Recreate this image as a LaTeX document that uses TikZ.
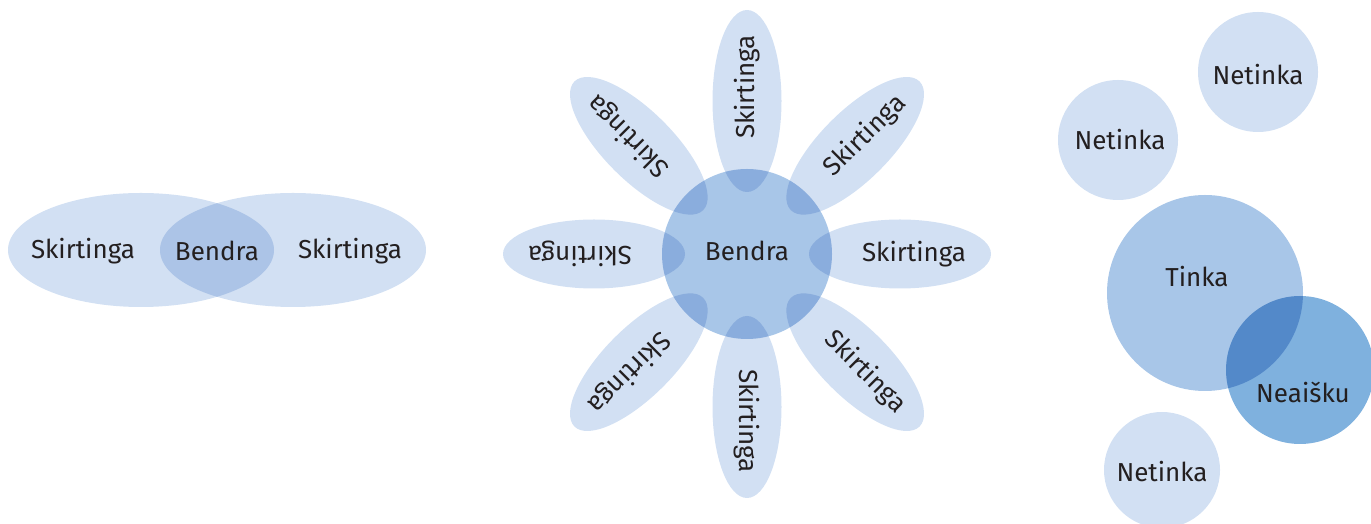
\documentclass[tikz,border=0pt]{standalone}
\usepackage{fontspec}
\setmainfont{Fira Sans}
\usetikzlibrary{shapes.geometric,calc}
\definecolor{lightblue}{RGB}{210,224,243}
\definecolor{midblue}{RGB}{168,198,232}
\definecolor{deepblue}{RGB}{127,177,222}
\definecolor{inkgray}{RGB}{35,31,32}
\begin{document}
\begin{tikzpicture}[x=0.5pt, y=0.5pt,
    every node/.style={inner sep=0pt, text=inkgray, font=\fontsize{13}{15}\selectfont},
    vennpart/.style={ellipse, fill=lightblue, minimum width=133pt, minimum height=57pt},
    petal/.style={ellipse, fill=lightblue, minimum width=91pt, minimum height=34.5pt},
    core/.style={circle, fill=midblue, minimum size=85pt},
    bubble/.style={circle, fill=lightblue, minimum size=#1}]
    \useasboundingbox (0,0) rectangle (1371,524);
    \begin{scope}[blend group=multiply]
        % left: two sets
        \node[vennpart] (setA) at (141,274) {};
        \node[vennpart] (setB) at (293,274) {};
        % middle: flower
        \node[core] (hub) at (747,270) {};
        \foreach \a in {0,45,...,315}
            \node[petal, rotate=\a] (petal\a) at ($(hub)+(\a:153)$) {};
        % right: bubbles
        \node[bubble=60pt] (outA) at (1258,452) {};
        \node[bubble=60pt] (outB) at (1118,384) {};
        \node[bubble=58pt] (outC) at (1162,54) {};
        \node[circle, fill=midblue, minimum size=98pt] (fit) at (1205,231) {};
        \node[circle, fill=deepblue, minimum size=74pt] (unclear) at (1300,154) {};
    \end{scope}
    \node (setA-txt) at (83,273) {Skirtinga};
    \node (both-txt) at (217,273) {Bendra};
    \node (setB-txt) at (350,273) {Skirtinga};
    \node (hub-txt) at ($(hub)+(0,3)$) {Bendra};
    \foreach \a in {0,45,...,315}
        \node[rotate=\a] (petal\a-txt) at ($(hub)+(\a:167)$) {Skirtinga};
    \node (outA-txt) at (1258,449) {Netinka};
    \node (outB-txt) at (1120,384) {Netinka};
    \node (outC-txt) at (1162,52) {Netinka};
    \node (fit-txt) at (1197,247) {Tinka};
    \node (unclear-txt) at (1303,132) {Neaišku};
\end{tikzpicture}
\end{document}
